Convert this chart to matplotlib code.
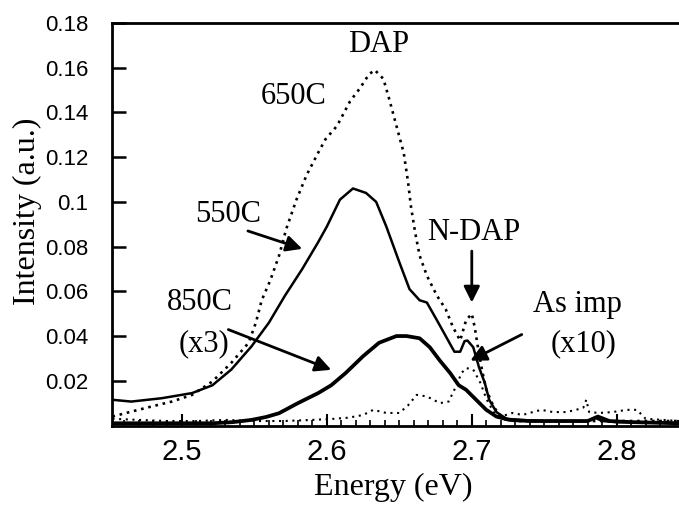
import matplotlib
matplotlib.use('Agg')
import matplotlib.pyplot as plt
from matplotlib.ticker import MultipleLocator

# Datos (energia en eV, intensidad en u.a.)
e_550 = [2.452, 2.465, 2.486, 2.507, 2.521, 2.534, 2.548, 2.560, 2.571, 2.583,
         2.594, 2.600, 2.609, 2.618, 2.627, 2.634, 2.641, 2.650, 2.657, 2.664,
         2.669, 2.676, 2.682, 2.688, 2.692, 2.695, 2.697, 2.701, 2.705, 2.709,
         2.712, 2.717, 2.724, 2.733, 2.750, 2.770, 2.780, 2.785, 2.790, 2.800,
         2.820, 2.843]
i_550 = [0.0115, 0.0107, 0.0122, 0.0145, 0.018, 0.025, 0.0354, 0.046, 0.058, 0.070,
         0.082, 0.089, 0.101, 0.106, 0.104, 0.100, 0.089, 0.073, 0.061, 0.056,
         0.055, 0.047, 0.040, 0.033, 0.033, 0.0377, 0.038, 0.035, 0.026, 0.019,
         0.0115, 0.006, 0.003, 0.0025, 0.002, 0.002, 0.002, 0.0035, 0.002, 0.0015,
         0.0015, 0.001]

e_650 = [2.452, 2.465, 2.479, 2.493, 2.507, 2.521, 2.534, 2.546, 2.551, 2.555,
         2.561, 2.567, 2.572, 2.579, 2.586, 2.594, 2.599, 2.607, 2.616, 2.623,
         2.629, 2.633, 2.639, 2.643, 2.648, 2.653, 2.656, 2.658, 2.661, 2.664,
         2.669, 2.676, 2.682, 2.687, 2.692, 2.696, 2.700, 2.702, 2.704, 2.707,
         2.710, 2.715, 2.721, 2.730, 2.750, 2.780, 2.810, 2.843]
i_650 = [0.004, 0.0062, 0.0085, 0.0107, 0.0137, 0.0197, 0.028, 0.037, 0.046, 0.056,
         0.065, 0.076, 0.088, 0.101, 0.112, 0.122, 0.128, 0.134, 0.145, 0.151,
         0.157, 0.159, 0.155, 0.146, 0.134, 0.122, 0.109, 0.098, 0.086, 0.076,
         0.067, 0.058, 0.052, 0.044, 0.038, 0.047, 0.050, 0.044, 0.036, 0.025,
         0.016, 0.0085, 0.003, 0.002, 0.002, 0.002, 0.002, 0.002]

e_as = [2.452, 2.470, 2.490, 2.510, 2.530, 2.550, 2.570, 2.590, 2.605, 2.615,
        2.625, 2.632, 2.641, 2.650, 2.656, 2.662, 2.669, 2.678, 2.684, 2.688,
        2.693, 2.696, 2.701, 2.706, 2.710, 2.715, 2.720, 2.728, 2.735, 2.742,
        2.748, 2.756, 2.765, 2.772, 2.777, 2.779, 2.781, 2.788, 2.797, 2.807,
        2.814, 2.820, 2.843]
i_as = [0.003, 0.0025, 0.002, 0.002, 0.0025, 0.002, 0.002, 0.0025, 0.003, 0.0035,
        0.0047, 0.007, 0.0056, 0.0056, 0.009, 0.0137, 0.013, 0.010, 0.0107, 0.016,
        0.0235, 0.0257, 0.025, 0.019, 0.012, 0.006, 0.004, 0.0056, 0.0047, 0.006,
        0.007, 0.006, 0.006, 0.007, 0.008, 0.0115, 0.006, 0.0056, 0.006, 0.007,
        0.007, 0.003, 0.002]

e_850 = [2.452, 2.480, 2.500, 2.521, 2.535, 2.548, 2.558, 2.567, 2.580, 2.594,
         2.603, 2.613, 2.625, 2.636, 2.648, 2.655, 2.664, 2.671, 2.678, 2.685,
         2.691, 2.696, 2.703, 2.710, 2.717, 2.726, 2.740, 2.760, 2.780, 2.787,
         2.795, 2.810, 2.843]
i_850 = [0.001, 0.001, 0.001, 0.001, 0.0015, 0.0025, 0.0038, 0.0055, 0.010, 0.0145,
         0.018, 0.0235, 0.031, 0.037, 0.040, 0.040, 0.039, 0.035, 0.029, 0.0235,
         0.018, 0.016, 0.0115, 0.007, 0.004, 0.0025, 0.002, 0.002, 0.002, 0.004,
         0.002, 0.0015, 0.001]

x_ticks = [2.5, 2.6, 2.7, 2.8]
x_labels = ['2.5', '2.6', '2.7', '2.8']
y_ticks = [0.02, 0.04, 0.06, 0.08, 0.1, 0.12, 0.14, 0.16, 0.18]
y_labels = ['0.02', '0.04', '0.06', '0.08', '0.1', '0.12', '0.14', '0.16', '0.18']

serif = 'Liberation Serif'
sans = 'Liberation Sans'

fig = plt.figure(figsize=(6.79, 5.09), dpi=100)
ax = fig.add_axes([112/679, 1 - 425.5/509, 1 - 112/679, (425.5 - 23)/509])

ax.plot(e_650, i_650, color='k', ls=(0, (1, 1.8)), lw=1.9)
ax.plot(e_as, i_as, color='k', ls=(0, (1, 2.2)), lw=1.5)
ax.plot(e_550, i_550, color='k', lw=1.8)
ax.plot(e_850, i_850, color='k', lw=2.7)

ax.set_xlim(2.4517, 2.843)
ax.set_ylim(0, 0.18)

ax.spines['right'].set_visible(False)
for s in ['left', 'top', 'bottom']:
    ax.spines[s].set_linewidth(2)

ax.set_xticks(x_ticks)
ax.set_xticklabels(x_labels, fontfamily=sans, fontsize=21)
ax.set_yticks(y_ticks)
ax.set_yticklabels(y_labels, fontfamily=sans, fontsize=16)
ax.xaxis.set_minor_locator(MultipleLocator(0.01))
ax.tick_params(axis='x', which='major', direction='in', length=9, width=1.5, pad=9, top=False)
ax.tick_params(axis='x', which='minor', direction='in', length=4, width=1.2, top=False)
ax.tick_params(axis='y', which='major', direction='in', length=10, width=1.8, pad=17, right=False)

fig.text(27/679, 1 - 211/509, 'Intensity (a.u.)', rotation=90, ha='center', va='center',
         fontfamily=serif, fontsize=23)
fig.text(393/679, 1 - 487/509, 'Energy (eV)', ha='center', va='center',
         fontfamily=serif, fontsize=23)

# Etiquetas
txt = dict(fontfamily=serif, fontsize=22, ha='center', va='center')
ax.text(2.636, 0.1706, 'DAP', **txt)
ax.text(2.577, 0.1472, '650C', **txt)
ax.text(2.532, 0.0942, '550C', **txt)
ax.text(2.5124, 0.0551, '850C', **txt)
ax.text(2.515, 0.0366, '(x3)', **txt)
ax.text(2.7014, 0.0861, 'N-DAP', **txt)
ax.text(2.773, 0.0542, 'As imp', **txt)
ax.text(2.7772, 0.0366, '(x10)', **txt)

# Flechas
arr = dict(arrowstyle='-|>', color='k', lw=2, mutation_scale=24, shrinkA=0, shrinkB=0)
ax.annotate('', xy=(2.583, 0.079), xytext=(2.5455, 0.087), arrowprops=arr)
ax.annotate('', xy=(2.603, 0.0249), xytext=(2.532, 0.0429), arrowprops=arr)
ax.annotate('', xy=(2.700, 0.055), xytext=(2.700, 0.078), arrowprops=arr)
ax.annotate('', xy=(2.699, 0.029), xytext=(2.7345, 0.0407), arrowprops=arr)

fig.savefig('out.png', dpi=100)
